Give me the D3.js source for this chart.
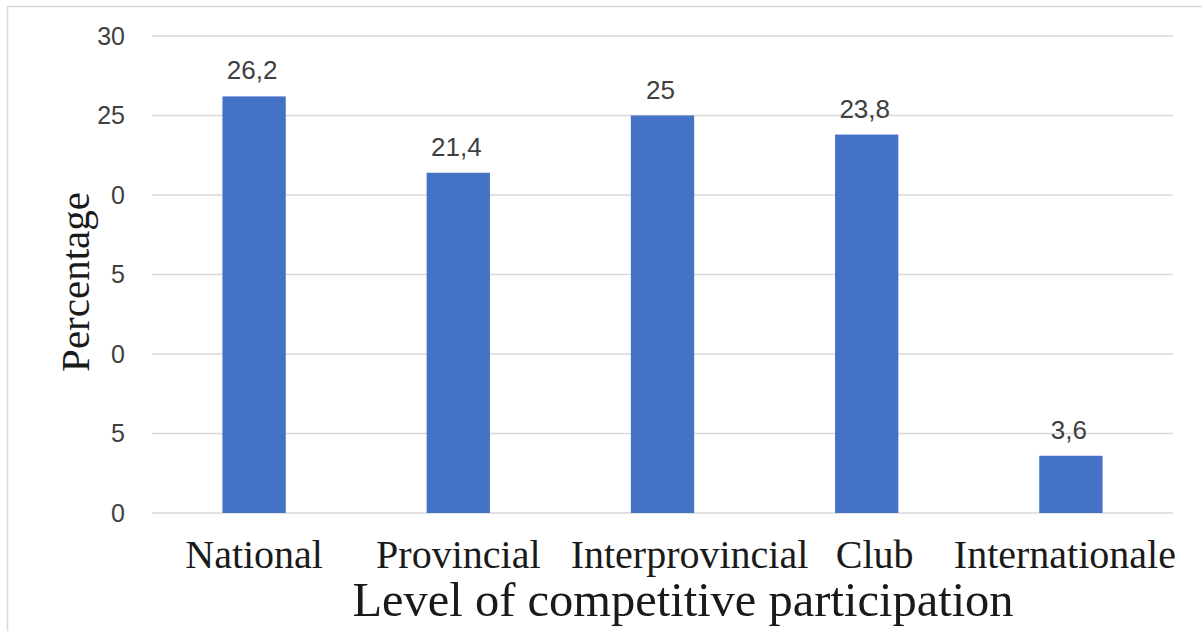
<!DOCTYPE html>
<html>
<head>
<meta charset="utf-8">
<script src="https://cdn.jsdelivr.net/npm/d3@7"></script>
<style>
  html, body { margin: 0; padding: 0; background: #fff; }
  svg { display: block; }
</style>
</head>
<body>
<svg id="chart" width="1202" height="631"></svg>
<script>
// Share of athletes by level of competitive participation (%)
const categories = ["National", "Provincial", "Interprovincial", "Club", "Internationale"];
const values = [26.2, 21.4, 25, 23.8, 3.6];
const valueLabels = ["26,2", "21,4", "25", "23,8", "3,6"];
const tickValues = [0, 5, 10, 15, 20, 25, 30];
const tickLabels = ["0", "5", "0", "5", "0", "25", "30"];

const svg = d3.select("#chart");
const W = 1202, H = 631;
const plot = { left: 152, right: 1173, top: 36, bottom: 513 };

// Long category labels are nudged sideways so neighbours don't collide
const labelNudge = { Interprovincial: 27, Club: 8, Internationale: -6 };

// Chart frame (left and top edges visible)
svg.append("path")
  .attr("d", `M7.5,${H} V6.5 H${W}`)
  .attr("fill", "none")
  .attr("stroke", "#d9d9d9")
  .attr("stroke-width", 1.5);

const x = d3.scaleBand()
  .domain(categories)
  .range([plot.left, plot.right])
  .paddingInner(0.69)
  .paddingOuter(0.345);

const y = d3.scaleLinear()
  .domain([0, 30])
  .range([plot.bottom, plot.top]);

// Horizontal gridlines
svg.append("g")
  .selectAll("line")
  .data(tickValues)
  .join("line")
  .attr("x1", plot.left)
  .attr("x2", plot.right)
  .attr("y1", d => y(d))
  .attr("y2", d => y(d))
  .attr("stroke", "#d9d9d9")
  .attr("stroke-width", 1.5);

// Y tick labels
const yAxis = d3.axisLeft(y)
  .tickValues(tickValues)
  .tickFormat((d, i) => tickLabels[i])
  .tickSize(0)
  .tickPadding(0);

const yg = svg.append("g")
  .attr("transform", `translate(125,0)`)
  .call(yAxis);
yg.select(".domain").remove();
yg.selectAll("text")
  .attr("font-family", "'Liberation Sans', Arial, sans-serif")
  .attr("font-size", 25)
  .attr("fill", "#404040");

// Bars
svg.append("g")
  .selectAll("rect")
  .data(values)
  .join("rect")
  .attr("x", (d, i) => x(categories[i]))
  .attr("width", x.bandwidth())
  .attr("y", d => y(d))
  .attr("height", d => y(0) - y(d))
  .attr("fill", "#4472c4");

// Value labels
svg.append("g")
  .selectAll("text")
  .data(values)
  .join("text")
  .attr("x", (d, i) => x(categories[i]) + x.bandwidth() / 2 - 2)
  .attr("y", d => y(d) - 17)
  .attr("text-anchor", "middle")
  .attr("font-family", "'Liberation Sans', Arial, sans-serif")
  .attr("font-size", 26)
  .attr("fill", "#404040")
  .text((d, i) => valueLabels[i]);

// Category labels
const xAxis = d3.axisBottom(x).tickSize(0).tickPadding(0);
const xg = svg.append("g")
  .attr("transform", `translate(0,568)`)
  .call(xAxis);
xg.select(".domain").remove();
xg.selectAll("text")
  .attr("dy", 0)
  .attr("dx", d => labelNudge[d] || 0)
  .attr("font-family", "'Liberation Serif', 'Times New Roman', serif")
  .attr("font-size", 40)
  .attr("fill", "#1a1a1a");

// Axis titles
svg.append("text")
  .attr("x", 683)
  .attr("y", 616)
  .attr("text-anchor", "middle")
  .attr("font-family", "'Liberation Serif', 'Times New Roman', serif")
  .attr("font-size", 48.5)
  .attr("fill", "#1a1a1a")
  .text("Level of competitive participation");

svg.append("text")
  .attr("transform", "translate(89,282) rotate(-90)")
  .attr("text-anchor", "middle")
  .attr("font-family", "'Liberation Serif', 'Times New Roman', serif")
  .attr("font-size", 41)
  .attr("fill", "#1a1a1a")
  .text("Percentage");
</script>
</body>
</html>
